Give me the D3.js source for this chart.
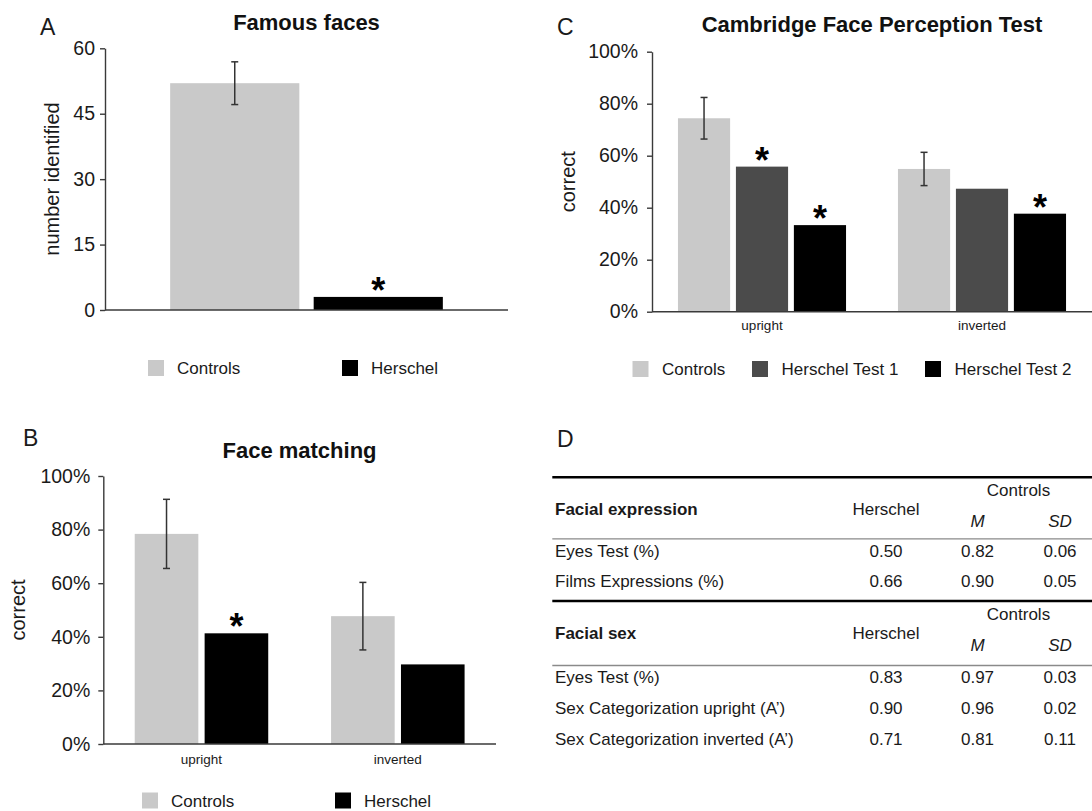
<!DOCTYPE html>
<html>
<head>
<meta charset="utf-8">
<script src="https://cdn.jsdelivr.net/npm/d3@7"></script>
<style>
  html, body { margin: 0; padding: 0; background: #ffffff; }
  svg { display: block; font-family: "Liberation Sans", Arial, Helvetica, sans-serif; }
</style>
</head>
<body>
<script>
// ---------------- DATA ----------------
// Panel A: Famous faces
const famousCategories = ["Controls", "Herschel"];
const famousValues = [52, 3];
const famousErrors = [4.9, null];
const famousStars = [false, true];
const famousTicks = [0, 15, 30, 45, 60];

// Panel B: Face matching
const matchingConditions = ["upright", "inverted"];
const matchingSeries = ["Controls", "Herschel"];
const matchingControls = [0.784, 0.477];
const matchingHerschel = [0.413, 0.297];
const matchingControlsErr = [0.129, 0.126];
const matchingHerschelStars = [true, false];

// Panel C: Cambridge Face Perception Test
const cfptConditions = ["upright", "inverted"];
const cfptSeries = ["Controls", "Herschel Test 1", "Herschel Test 2"];
const cfptControls = [0.744, 0.549];
const cfptTest1 = [0.558, 0.473];
const cfptTest2 = [0.333, 0.377];
const cfptControlsErr = [0.080, 0.064];
const cfptTest1Stars = [true, false];
const cfptTest2Stars = [true, true];

const percentTicks = [0, 0.2, 0.4, 0.6, 0.8, 1.0];

// Panel D: table
const expressionRows = ["Eyes Test (%)", "Films Expressions (%)"];
const expressionHerschel = ["0.50", "0.66"];
const expressionM = ["0.82", "0.90"];
const expressionSD = ["0.06", "0.05"];
const sexRows = ["Eyes Test (%)", "Sex Categorization upright (A\u2019)", "Sex Categorization inverted (A\u2019)"];
const sexHerschel = ["0.83", "0.90", "0.71"];
const sexM = ["0.97", "0.96", "0.81"];
const sexSD = ["0.03", "0.02", "0.11"];

// ---------------- STYLE ----------------
const colorControls = "#c9c9c9";
const colorTest1 = "#4b4b4b";
const colorHerschel = "#000000";
const axisColor = "#3a3a3a";
const textColor = "#1a1a1a";

const W = 1092, H = 811;
const svg = d3.select("body").append("svg").attr("width", W).attr("height", H);
svg.append("rect").attr("width", W).attr("height", H).attr("fill", "#fff");

// ---------------- HELPERS ----------------
function panelLetter(x, y, t) {
  svg.append("text").attr("x", x).attr("y", y).attr("font-size", 23)
    .attr("fill", textColor).text(t);
}
function title(x, y, t) {
  svg.append("text").attr("x", x).attr("y", y).attr("text-anchor", "middle")
    .attr("font-size", 22).attr("font-weight", "bold").attr("fill", "#111").text(t);
}
function yAxis(y, x, ticks, fmt, pad) {
  const g = svg.append("g").attr("transform", `translate(${x},0)`)
    .call(d3.axisLeft(y).tickValues(ticks).tickFormat(fmt).tickSize(5).tickSizeOuter(0).tickPadding(pad));
  g.select(".domain").attr("stroke", axisColor).attr("stroke-width", 1.4);
  g.selectAll(".tick line").attr("stroke", axisColor).attr("stroke-width", 1.4);
  g.selectAll(".tick text").attr("font-size", 19.5).attr("fill", textColor)
    .attr("font-family", "Liberation Sans, Arial, sans-serif");
  return g;
}
function yLabel(x, y, t) {
  svg.append("text").attr("transform", `translate(${x},${y}) rotate(-90)`)
    .attr("text-anchor", "middle").attr("dominant-baseline", "central")
    .attr("font-size", 20).attr("fill", textColor).text(t);
}
function xBaseline(x0, x1, y) {
  svg.append("line").attr("x1", x0).attr("x2", x1).attr("y1", y).attr("y2", y)
    .attr("stroke", axisColor).attr("stroke-width", 1.4);
}
function errorBar(cx, yTop, yBot) {
  const g = svg.append("g").attr("stroke", "#333").attr("stroke-width", 1.5);
  g.append("line").attr("x1", cx).attr("x2", cx).attr("y1", yTop).attr("y2", yBot);
  g.append("line").attr("x1", cx - 3.5).attr("x2", cx + 3.5).attr("y1", yTop).attr("y2", yTop);
  g.append("line").attr("x1", cx - 3.5).attr("x2", cx + 3.5).attr("y1", yBot).attr("y2", yBot);
}
function star(cx, barTop) {
  const cy = barTop - 14;
  svg.append("text").attr("x", cx).attr("y", cy + 20).attr("text-anchor", "middle")
    .attr("font-size", 36).attr("font-weight", "bold").attr("fill", "#000").text("*");
}
function legend(items, colors, xs, y, textOffset) {
  items.forEach((name, i) => {
    svg.append("rect").attr("x", xs[i]).attr("y", y).attr("width", 16).attr("height", 16)
      .attr("fill", colors[i]);
    svg.append("text").attr("x", xs[i] + textOffset).attr("y", y + 14)
      .attr("font-size", 17).attr("fill", textColor).text(name);
  });
}

// ---------------- PANEL A ----------------
{
  const y = d3.scaleLinear().domain([0, 60]).range([310, 48.3]);
  const x = d3.scaleBand().domain(famousCategories).range([105, 508]).paddingInner(0.1).paddingOuter(0.454);
  const colors = [colorControls, colorHerschel];
  famousCategories.forEach((c, i) => {
    svg.append("rect").attr("x", x(c)).attr("width", x.bandwidth())
      .attr("y", y(famousValues[i])).attr("height", y(0) - y(famousValues[i]))
      .attr("fill", colors[i]);
  });
  famousCategories.forEach((c, i) => {
    const cx = x(c) + x.bandwidth() / 2;
    if (famousErrors[i] != null) errorBar(cx, y(famousValues[i] + famousErrors[i]), y(famousValues[i] - famousErrors[i]));
    if (famousStars[i]) star(cx, y(famousValues[i]));
  });
  xBaseline(105, 508, y(0));
  yAxis(y, 105, famousTicks, d3.format("d"), 5);
  yLabel(52, 179, "number identified");
  panelLetter(40, 35, "A");
  title(306.5, 29.5, "Famous faces");
  legend(famousCategories, colors, [148, 342], 360, 29);
}

// ---------------- PANEL B ----------------
{
  const y = d3.scaleLinear().domain([0, 1]).range([744, 476]);
  const x0 = d3.scaleBand().domain(matchingConditions).range([103.3, 496]).paddingInner(0.32).paddingOuter(0.16);
  const x1 = d3.scaleBand().domain(matchingSeries).range([0, x0.bandwidth()]).paddingInner(0.09);
  const seriesVals = [matchingControls, matchingHerschel];
  const colors = [colorControls, colorHerschel];
  matchingConditions.forEach((cond, ci) => {
    matchingSeries.forEach((s, si) => {
      const v = seriesVals[si][ci];
      svg.append("rect").attr("x", x0(cond) + x1(s)).attr("width", x1.bandwidth())
        .attr("y", y(v)).attr("height", y(0) - y(v)).attr("fill", colors[si]);
    });
    const cxC = x0(cond) + x1("Controls") + x1.bandwidth() / 2;
    const vc = matchingControls[ci], e = matchingControlsErr[ci];
    errorBar(cxC, y(vc + e), y(vc - e));
    if (matchingHerschelStars[ci]) star(x0(cond) + x1("Herschel") + x1.bandwidth() / 2, y(matchingHerschel[ci]));
    svg.append("text").attr("x", x0(cond) + x0.bandwidth() / 2).attr("y", y(0) + 20)
      .attr("text-anchor", "middle").attr("font-size", 13.5).attr("fill", textColor).text(cond);
  });
  xBaseline(103.3, 496, y(0));
  yAxis(y, 103.3, percentTicks, d3.format(".0%"), 8);
  yLabel(18, 610, "correct");
  panelLetter(23, 446, "B");
  title(299.5, 458, "Face matching");
  legend(matchingSeries, colors, [142, 335], 792.5, 29);
}

// ---------------- PANEL C ----------------
{
  const y = d3.scaleLinear().domain([0, 1]).range([311.7, 51.7]);
  const x0 = d3.scaleBand().domain(cfptConditions).range([652, 1092]).paddingInner(0.236).paddingOuter(0.118);
  const x1 = d3.scaleBand().domain(cfptSeries).range([0, x0.bandwidth()]).paddingInner(0.1);
  const seriesVals = [cfptControls, cfptTest1, cfptTest2];
  const seriesStars = [[false, false], cfptTest1Stars, cfptTest2Stars];
  const colors = [colorControls, colorTest1, colorHerschel];
  cfptConditions.forEach((cond, ci) => {
    cfptSeries.forEach((s, si) => {
      const v = seriesVals[si][ci];
      svg.append("rect").attr("x", x0(cond) + x1(s)).attr("width", x1.bandwidth())
        .attr("y", y(v)).attr("height", y(0) - y(v)).attr("fill", colors[si]);
    });
    const cxC = x0(cond) + x1("Controls") + x1.bandwidth() / 2;
    const vc = cfptControls[ci], e = cfptControlsErr[ci];
    errorBar(cxC, y(vc + e), y(vc - e));
    cfptSeries.forEach((s, si) => {
      if (seriesStars[si][ci]) star(x0(cond) + x1(s) + x1.bandwidth() / 2, y(seriesVals[si][ci]));
    });
    svg.append("text").attr("x", x0(cond) + x0.bandwidth() / 2).attr("y", y(0) + 18.5)
      .attr("text-anchor", "middle").attr("font-size", 13.5).attr("fill", textColor).text(cond);
  });
  xBaseline(652, 1092, y(0));
  yAxis(y, 652, percentTicks, d3.format(".0%"), 9);
  yLabel(568, 181.7, "correct");
  panelLetter(557, 35, "C");
  title(872, 32, "Cambridge Face Perception Test");
  legend(cfptSeries, colors, [632.5, 752, 925], 361, 29.5);
}

// ---------------- PANEL D (table) ----------------
{
  panelLetter(557, 446.5, "D");
  const left = 552.3, right = 1092, labelX = 555;
  const colHerschel = 886, colM = 977.5, colSD = 1060, colControls = 1018.5;
  const fs = 17;
  const off = fs * 0.36;
  function txt(x, cy, t, anchor, opts = {}) {
    const el = svg.append("text").attr("x", x).attr("y", cy + off).attr("text-anchor", anchor)
      .attr("font-size", fs).attr("fill", textColor).text(t);
    if (opts.bold) el.attr("font-weight", "bold");
    if (opts.italic) el.attr("font-style", "italic");
    return el;
  }
  function section(top, name, rows, hv, mv, sv, rowStarts) {
    svg.append("line").attr("x1", left).attr("x2", right).attr("y1", top).attr("y2", top)
      .attr("stroke", "#000").attr("stroke-width", 2.4);
    txt(colControls, top + 12.5, "Controls", "middle");
    txt(labelX, top + 32, name, "start", { bold: true });
    txt(colHerschel, top + 31.5, "Herschel", "middle");
    txt(colM, top + 44, "M", "middle", { italic: true });
    txt(colSD, top + 44, "SD", "middle", { italic: true });
    const thin = top + rowStarts[0];
    svg.append("line").attr("x1", left).attr("x2", right).attr("y1", thin).attr("y2", thin)
      .attr("stroke", "#8a8a8a").attr("stroke-width", 1.3);
    rows.forEach((r, i) => {
      const cy = top + rowStarts[1] + i * rowStarts[2];
      txt(labelX, cy, r, "start");
      txt(colHerschel, cy, hv[i], "middle");
      txt(colM, cy, mv[i], "middle");
      txt(colSD, cy, sv[i], "middle");
    });
  }
  section(477.3, "Facial expression", expressionRows, expressionHerschel, expressionM, expressionSD, [61.5, 73.6, 30.3]);
  section(601, "Facial sex", sexRows, sexHerschel, sexM, sexSD, [64.5, 76.3, 30.8]);
}
</script>
</body>
</html>
